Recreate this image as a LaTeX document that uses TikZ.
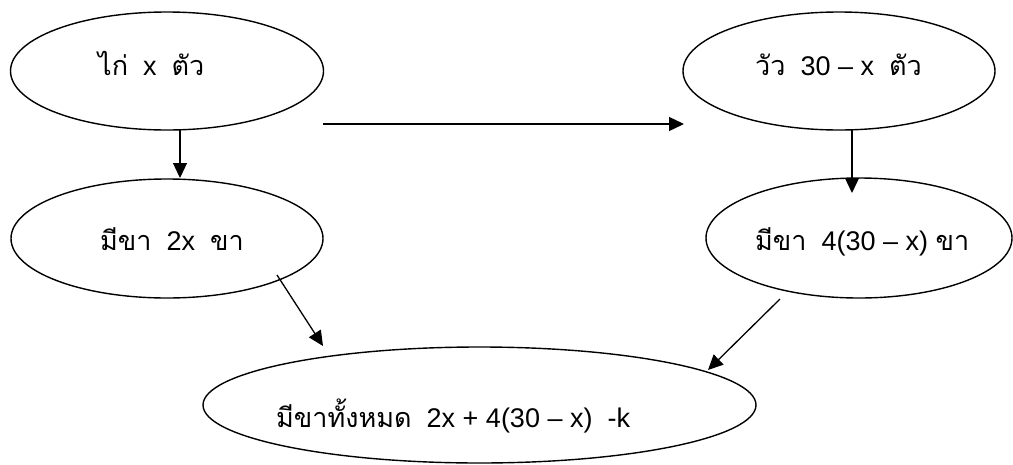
\documentclass[tikz,border=0pt]{standalone}
\usepackage{fontspec}
\setmainfont{Liberation Sans}
\newfontfamily\thaifont[Script=Thai]{Loma}
\usetikzlibrary{arrows.meta,shapes.geometric}
\newcommand{\tht}[1]{{\thaifont\fontsize{27}{31}\selectfont #1}}
\tikzset{
  ell/.style={draw, ellipse, line width=1.4pt, inner sep=0pt},
  arr/.style={line width=1.3pt, -{Triangle[length=15pt,width=14pt]}},
  lbl/.style={anchor=base west, inner sep=0pt, font=\fontsize{27}{31}\selectfont}
}
\begin{document}
\begin{tikzpicture}[x=1pt,y=-1pt]
\useasboundingbox (0,0) rectangle (1013,464);
% ellipses
\node[ell, minimum width=313pt, minimum height=118pt] (A) at (167,71) {};
\node[ell, minimum width=312pt, minimum height=118pt] (B) at (839,71) {};
\node[ell, minimum width=312pt, minimum height=119pt] (C) at (167,238.5) {};
\node[ell, minimum width=306pt, minimum height=120pt] (D) at (859,238) {};
\node[ell, minimum width=553pt, minimum height=116pt] (E) at (479.5,405) {};
% texts
\node[lbl] (At) at (98,75) {\tht{ไก่}\ \ x\ \ \tht{ตัว}};
\node[lbl] (Bt) at (755,75) {\tht{วัว}\ \ 30 – x\ \ \tht{ตัว}};
\node[lbl] (Ct) at (100,250) {\tht{มีขา}\ \ 2x\ \ \tht{ขา}};
\node[lbl] (Dt) at (755,250) {\tht{มีขา}\ \ 4(30 – x) \tht{ขา}};
\node[lbl] (Et) at (276,427) {\tht{มีขาทั้งหมด}\ \ 2x + 4(30 – x)\ \ -k};
% connector end points
\coordinate (h1) at (323,124);
\coordinate (h2) at (684,124);
\coordinate (a1) at (180,130);
\coordinate (c1) at (180,178);
\coordinate (b1) at (852,130);
\coordinate (d1) at (852,193);
\coordinate (c2) at (277,275);
\coordinate (e1) at (323,346);
\coordinate (d2) at (780,299);
\coordinate (e2) at (708,370);
% connectors
\draw[arr] (h1) -- (h2);
\draw[arr] (a1) -- (c1);
\draw[arr] (b1) -- (d1);
\draw[arr] (c2) -- (e1);
\draw[arr] (d2) -- (e2);
\end{tikzpicture}
\end{document}
